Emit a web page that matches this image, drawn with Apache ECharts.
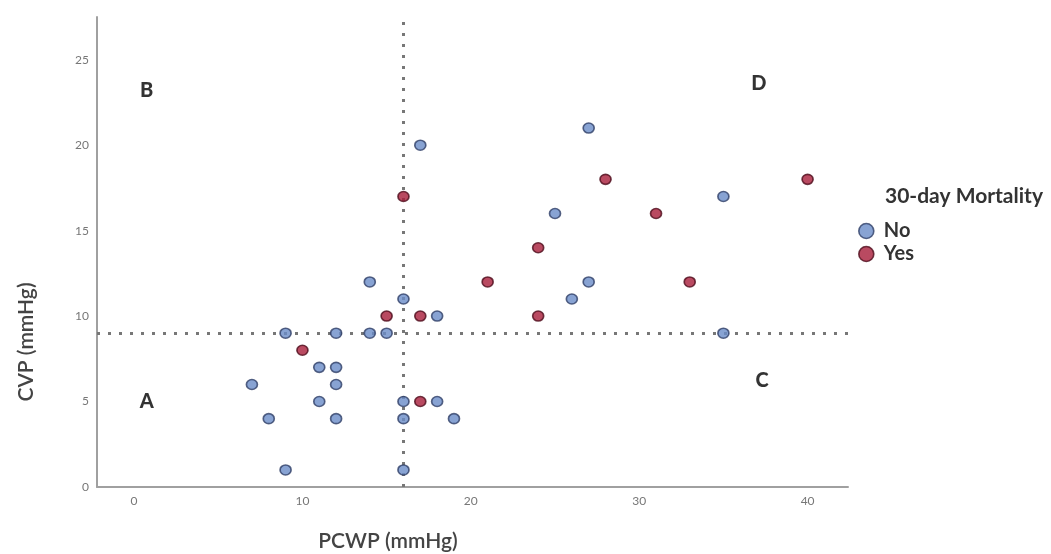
<!DOCTYPE html>
<html><head><meta charset="utf-8">
<script src="https://cdn.jsdelivr.net/npm/echarts@6/dist/echarts.min.js"></script>
<style>html,body{margin:0;padding:0;background:#fff}#c{width:1051px;height:554px}</style>
</head><body><div id="c"></div>
<script>
// PCWP (x), CVP (y)
const noPCWP  = [9, 9, 7, 8, 11, 12, 12, 12, 11, 12, 14, 14, 15, 16, 16, 16, 16, 17, 18, 18, 19, 27, 25, 27, 26, 35, 35];
const noCVP   = [9, 1, 6, 4, 7, 7, 9, 6, 5, 4, 12, 9, 9, 11, 5, 4, 1, 20, 10, 5, 4, 21, 16, 12, 11, 17, 9];
const yesPCWP = [10, 15, 16, 17, 17, 21, 24, 24, 28, 31, 33, 40];
const yesCVP  = [8, 10, 17, 10, 5, 12, 14, 10, 18, 16, 12, 18];
const xTicks = [0, 10, 20, 30, 40];
const yTicks = [0, 5, 10, 15, 20, 25];
const cutPCWP = 16, cutCVP = 9;
const quadLabels = ['A', 'B', 'C', 'D'];
const quadX = [0.75, 0.75, 37.3, 37.1];
const quadY = [5.0, 23.2, 6.2, 23.6];

const pairs = (xs, ys) => xs.map((x, i) => [x, ys[i]]);
const font = 'Lato, "Open Sans", sans-serif';
const blue = {color: '#6a8cc8', borderColor: '#2f3f66', borderWidth: 1.6};
const red = {color: '#a81d3a', borderColor: '#4e0d1c', borderWidth: 1.6};
const chart = echarts.init(document.getElementById('c'));
chart.setOption({
  animation: false,
  backgroundColor: '#fff',
  grid: {left: 97, right: 203, top: 17, bottom: 67},
  xAxis: {
    type: 'value', min: -2.2, max: 42.4,
    splitLine: {show: false},
    axisLine: {lineStyle: {color: '#a0a0a0', width: 2}},
    axisTick: {show: false},
    axisLabel: {customValues: xTicks, color: '#777', fontSize: 12, fontFamily: font, margin: 8}
  },
  yAxis: {
    type: 'value', min: 0, max: 27.5,
    splitLine: {show: false},
    axisLine: {show: true, onZero: false, lineStyle: {color: '#a0a0a0', width: 2}},
    axisTick: {show: false},
    axisLabel: {customValues: yTicks, color: '#777', fontSize: 12, fontFamily: font, margin: 8}
  },
  legend: {
    orient: 'vertical', left: 853, top: 216, itemGap: 3,
    itemWidth: 25, itemHeight: 15,
    textStyle: {fontSize: 20, fontFamily: font, color: '#333', fontWeight: 'bold'},
    data: [
      {name: 'No', icon: 'circle', itemStyle: blue},
      {name: 'Yes', icon: 'circle', itemStyle: red}
    ]
  },
  graphic: [
    {type: 'text', x: 885, y: 196, style: {text: '30-day Mortality', fontSize: 21, fontFamily: font, fill: '#333', fontWeight: 'bold', verticalAlign: 'middle'}},
    {type: 'text', x: 388, y: 541, style: {text: 'PCWP (mmHg)', fontSize: 21, fontFamily: font, fill: '#444', fontWeight: 600, align: 'center', verticalAlign: 'middle'}},
    {type: 'text', x: 26, y: 342, rotation: Math.PI / 2, style: {text: 'CVP (mmHg)', fontSize: 21, fontFamily: font, fill: '#444', fontWeight: 600, align: 'center', verticalAlign: 'middle'}}
  ],
  series: [
    {
      name: 'No', type: 'scatter', symbol: 'circle', symbolSize: [11, 10], z: 5,
      itemStyle: blue,
      data: pairs(noPCWP, noCVP),
      markLine: {
        silent: true, symbol: 'none', z: 3,
        lineStyle: {color: '#777', type: [3, 8], width: 3},
        label: {show: false},
        data: [{xAxis: cutPCWP}, {yAxis: cutCVP}]
      }
    },
    {
      name: 'Yes', type: 'scatter', symbol: 'circle', symbolSize: [11, 10], z: 5,
      itemStyle: red,
      data: pairs(yesPCWP, yesCVP)
    },
    {
      name: 'quad', type: 'scatter', symbolSize: 0, silent: true,
      label: {show: true, position: 'inside', formatter: p => p.data[2], fontSize: 20, fontWeight: 900, fontFamily: font, color: '#000'},
      data: quadX.map((x, i) => [x, quadY[i], quadLabels[i]])
    }
  ]
});
</script></body></html>
